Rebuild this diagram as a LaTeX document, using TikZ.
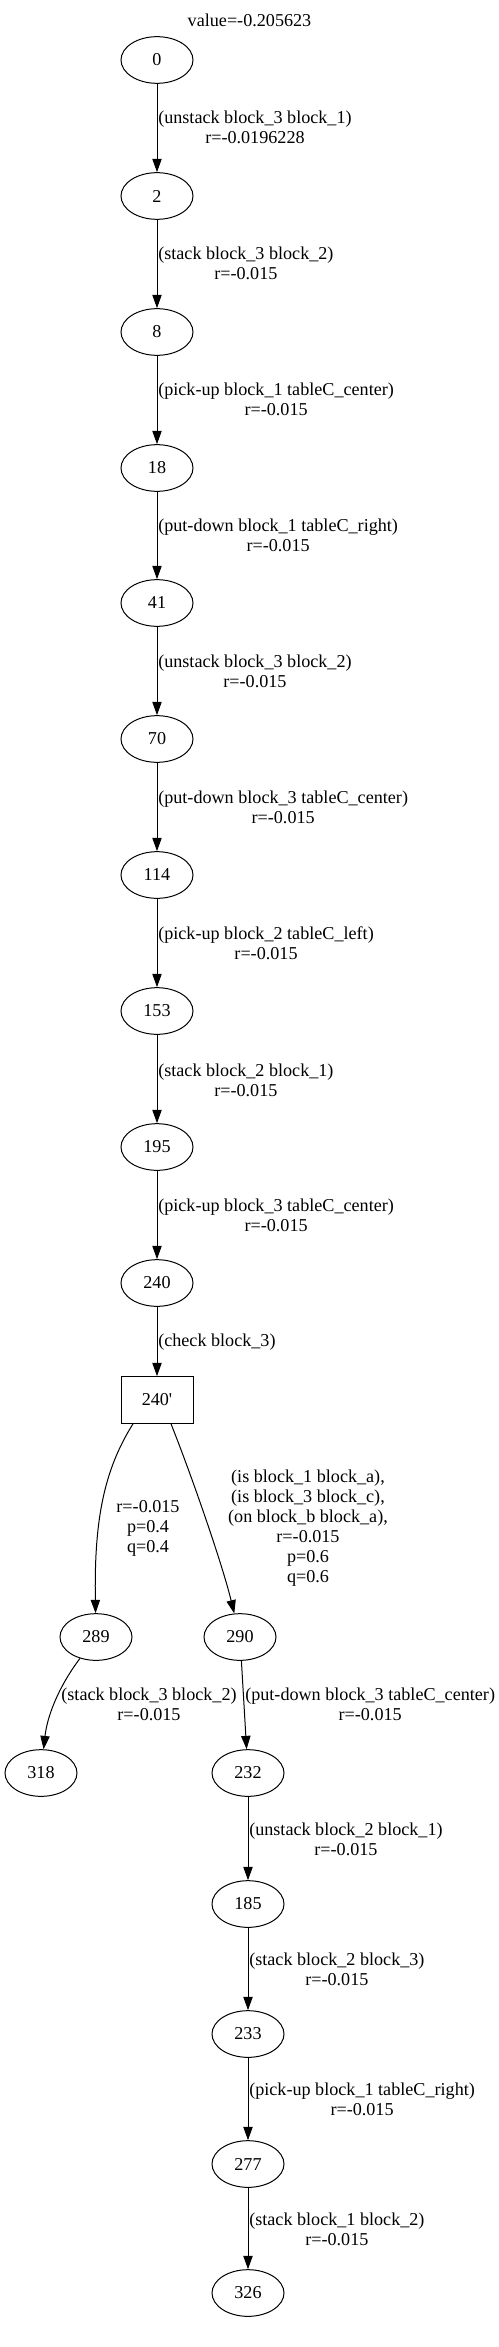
\documentclass[tikz,border=0pt]{standalone}
\usepackage{fontspec}
\setmainfont{Liberation Serif}
\usetikzlibrary{arrows.meta,shapes.geometric}
\tikzset{
  stnode/.style={ellipse,draw,line width=0.75pt,minimum width=54pt,minimum height=35pt,
    inner sep=0pt,font=\fontsize{13.6}{15}\selectfont},
  chknode/.style={rectangle,draw,line width=0.75pt,minimum width=54pt,minimum height=35pt,
    inner sep=0pt,font=\fontsize{13.6}{15}\selectfont},
  trans/.style={-{Triangle[length=10pt,width=7pt]},line width=0.75pt},
  elbl/.style={font=\fontsize{13.6}{15}\selectfont,align=center,inner sep=0pt},
}
\begin{document}
\begin{tikzpicture}[x=0.75pt,y=-0.75pt]
  \useasboundingbox (0,0) rectangle (499,2347);
  \node[elbl] (title) at (249.5,20) {value=-0.205623};
  % main chain
  \foreach \n/\y in {0/60,2/196,8/332,18/468,41/603,70/739,114/875,153/1011,195/1147,240/1283}{
    \node[stnode] (n\n) at (157,\y) {\n};}
  \node[chknode] (n240p) at (157,1400) {240\textquotesingle};
  \foreach \a/\b in {0/2,2/8,8/18,18/41,41/70,70/114,114/153,153/195,195/240,240/240p}{
    \draw[trans] (n\a) -- (n\b);}
  \node[elbl,anchor=west] (l0) at (158,127) {(unstack block\_3 block\_1)\\r=-0.0196228};
  \node[elbl,anchor=west] (l2) at (158,263) {(stack block\_3 block\_2)\\r=-0.015};
  \node[elbl,anchor=west] (l8) at (158,399) {(pick-up block\_1 tableC\_center)\\r=-0.015};
  \node[elbl,anchor=west] (l18) at (158,535) {(put-down block\_1 tableC\_right)\\r=-0.015};
  \node[elbl,anchor=west] (l41) at (158,671) {(unstack block\_3 block\_2)\\r=-0.015};
  \node[elbl,anchor=west] (l70) at (158,807) {(put-down block\_3 tableC\_center)\\r=-0.015};
  \node[elbl,anchor=west] (l114) at (158,943) {(pick-up block\_2 tableC\_left)\\r=-0.015};
  \node[elbl,anchor=west] (l153) at (158,1080) {(stack block\_2 block\_1)\\r=-0.015};
  \node[elbl,anchor=west] (l195) at (158,1215) {(pick-up block\_3 tableC\_center)\\r=-0.015};
  \node[elbl,anchor=west] (l240) at (158,1342) {(check block\_3)};
  % branches
  \node[stnode] (n289) at (96,1637) {289};
  \node[stnode] (n290) at (240,1637) {290};
  \draw[trans] ([xshift=-18pt]n240p.south) .. controls (104,1470) and (94,1520) .. (n289);
  \draw[trans] ([xshift=10.5pt]n240p.south) .. controls (191,1474) and (222,1563) .. (n290);
  \node[elbl] (lb289) at (148,1528) {r=-0.015\\p=0.4\\q=0.4};
  \node[elbl] (lb290) at (308,1528) {(is block\_1 block\_a),\\(is block\_3 block\_c),\\(on block\_b block\_a),\\r=-0.015\\p=0.6\\q=0.6};
  % left leaf
  \node[stnode] (n318) at (41,1773) {318};
  \draw[trans] (n289) .. controls (57,1689) and (47,1718) .. (n318);
  \node[elbl] (l289) at (149,1704) {(stack block\_3 block\_2)\\r=-0.015};
  % right chain
  \foreach \n/\y in {232/1773,185/1904,233/2034,277/2164,326/2293}{
    \node[stnode] (n\n) at (248,\y) {\n};}
  \draw[trans] (n290) -- (n232);
  \foreach \a/\b in {232/185,185/233,233/277,277/326}{
    \draw[trans] (n\a) -- (n\b);}
  \node[elbl,anchor=west] (l290) at (245,1704) {(put-down block\_3 tableC\_center)\\r=-0.015};
  \node[elbl,anchor=west] (l232) at (249,1839) {(unstack block\_2 block\_1)\\r=-0.015};
  \node[elbl,anchor=west] (l185) at (249,1969) {(stack block\_2 block\_3)\\r=-0.015};
  \node[elbl,anchor=west] (l233) at (249,2099) {(pick-up block\_1 tableC\_right)\\r=-0.015};
  \node[elbl,anchor=west] (l277) at (249,2229) {(stack block\_1 block\_2)\\r=-0.015};
\end{tikzpicture}
\end{document}
